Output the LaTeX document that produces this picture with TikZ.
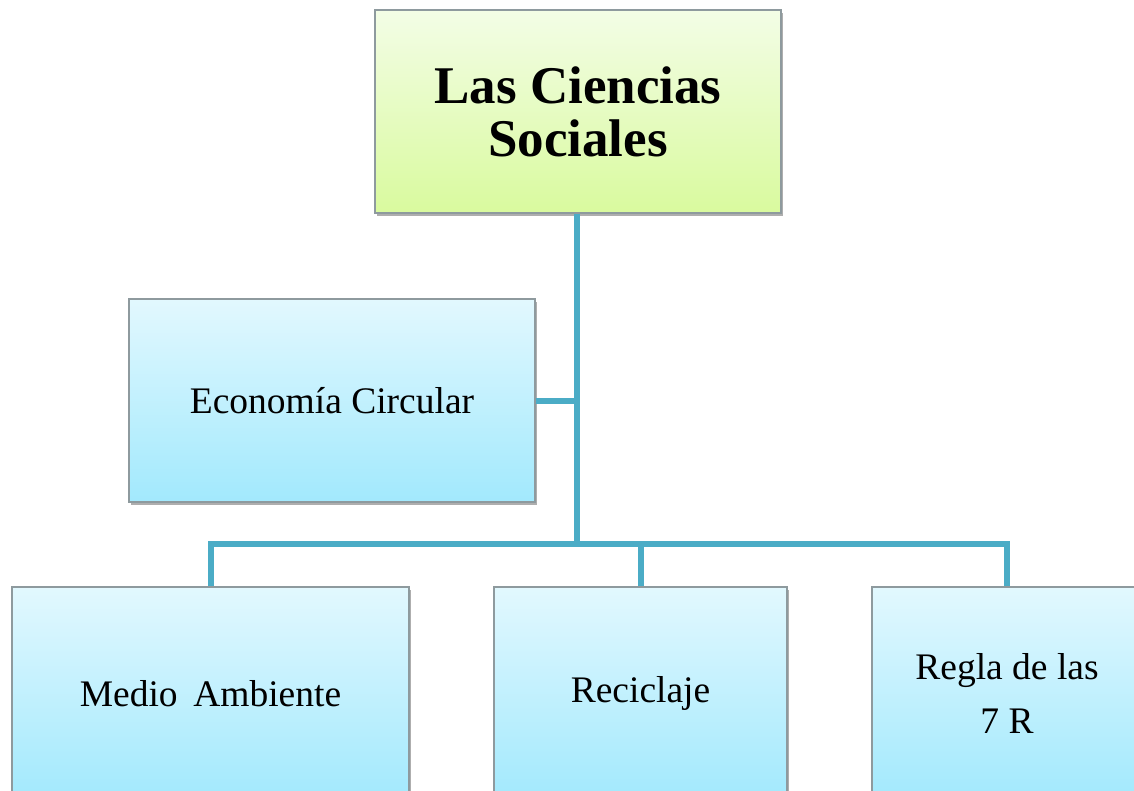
\documentclass[tikz,border=0pt]{standalone}
\usepackage{fontspec}
\setmainfont{Liberation Serif}
\usetikzlibrary{shadows}
\definecolor{conn}{HTML}{4BACC6}
\definecolor{gtop}{HTML}{F3FDE6}
\definecolor{gbot}{HTML}{D9FA9E}
\definecolor{btop}{HTML}{E2F8FE}
\definecolor{bbot}{HTML}{A2E9FD}
\definecolor{boxline}{HTML}{8E9A9E}
\tikzset{
  card/.style={draw=boxline, line width=1.2pt, rectangle, align=center,
    inner sep=0pt, text=black,
    drop shadow={shadow xshift=1.5pt, shadow yshift=-3pt, opacity=0.45, fill=black!70}},
  titlecard/.style={card, top color=gtop, bottom color=gbot,
    font=\fontsize{53}{53}\selectfont\bfseries},
  subcard/.style={card, top color=btop, bottom color=bbot,
    font=\fontsize{37.5}{54}\selectfont},
  link/.style={draw=conn, line width=6pt}
}
\begin{document}
\begin{tikzpicture}[x=1pt,y=-1pt]
\useasboundingbox (0,0) rectangle (1134,790);
\node[titlecard, minimum width=406pt, minimum height=203pt] (top) at (578,111.5) {Las Ciencias\\Sociales};
\node[subcard, minimum width=406pt, minimum height=203pt] (econ) at (332,400.5) {Economía Circular};
\node[subcard, minimum width=397pt, minimum height=213pt] (medio) at (210.5,693.5) {Medio\, Ambiente};
\node[subcard, minimum width=293pt, minimum height=213pt] (recic) at (640.5,693.5) {Reciclaje};
\node[subcard, minimum width=270pt, minimum height=213pt] (regla) at (1007,693.5) {Regla de las\\7 R};
\coordinate (j) at (577,544);
\draw[link] (top.south -| j) -- (j);
\draw[link] (econ.east) -- (econ.east -| j);
\draw[link] (medio.north) |- (j) -| (regla.north);
\draw[link] (recic.north) -- (recic.north |- j);
\end{tikzpicture}
\end{document}
